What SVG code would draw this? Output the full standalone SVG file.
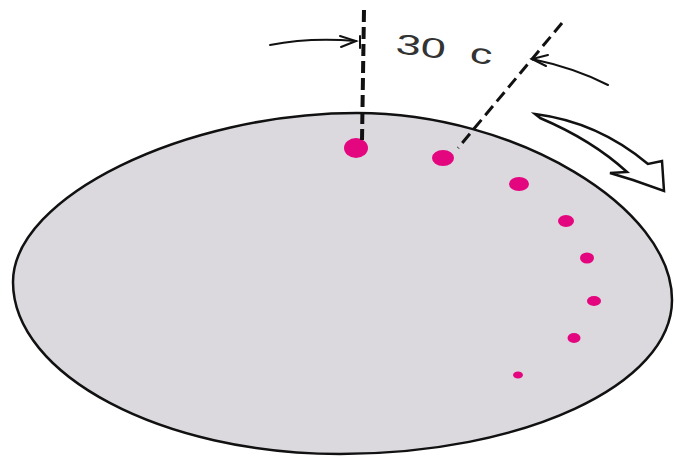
<svg xmlns="http://www.w3.org/2000/svg" width="674" height="456" viewBox="0 0 674 456">
<style>
.dot{fill:#e3067f}
.ln{fill:none;stroke:#111;stroke-width:2;stroke-linecap:round}
.lbl{font-family:"Liberation Sans",Arial,sans-serif;font-size:28px;fill:#333}
</style>
<rect width="674" height="456" fill="#fff"/>
<g id="disc">
<path d="M357 113 C185 113 13 197 13 282 C13 375 162 454 340 454 C523 454 672 385 672 300 C672 207 515 113 357 113 Z" fill="#dcd9de" stroke="#111" stroke-width="2.5"/>
</g>
<g id="spots">
<ellipse class="dot" cx="356" cy="148" rx="12" ry="10"/>
<ellipse class="dot" cx="443" cy="158" rx="11" ry="8"/>
<ellipse class="dot" cx="519" cy="184" rx="10" ry="7"/>
<ellipse class="dot" cx="566" cy="221" rx="8" ry="6"/>
<ellipse class="dot" cx="587" cy="258" rx="7" ry="5.5"/>
<ellipse class="dot" cx="594" cy="301" rx="7" ry="5"/>
<ellipse class="dot" cx="574" cy="338" rx="6.5" ry="5"/>
<ellipse class="dot" cx="518" cy="375" rx="5" ry="3.5"/>
</g>
<g id="connectors">
<line x1="364" y1="10" x2="362" y2="140" stroke="#111" stroke-width="4" stroke-dasharray="12 5"/>
<line x1="562" y1="23" x2="458" y2="148" stroke="#111" stroke-width="3" stroke-dasharray="12 6"/>
<line class="ln" x1="360" y1="36" x2="360" y2="48"/>
<path class="ln" d="M270 45 Q310 37 356 41"/>
<path class="ln" d="M340 36 L356 41 L341 47"/>
<path class="ln" d="M608 85 Q575 68 532 59"/>
<path class="ln" d="M548 55 L532 59 L546 66"/>
</g>
<g id="rotation-arrow">
<path d="M535 114 Q598 122 648 164 L662 161 L664 191 L633 180 L610 173 L627 172 Q592 140 540 118 Z" fill="#fff" stroke="#111" stroke-width="2.5" stroke-linejoin="miter"/>
</g>
<g id="label">
<text class="lbl" transform="translate(395,53) rotate(7) scale(1.6,1)">30</text>
<text class="lbl" transform="translate(469,62) rotate(7) scale(1.6,1)">c</text>
</g>
</svg>
